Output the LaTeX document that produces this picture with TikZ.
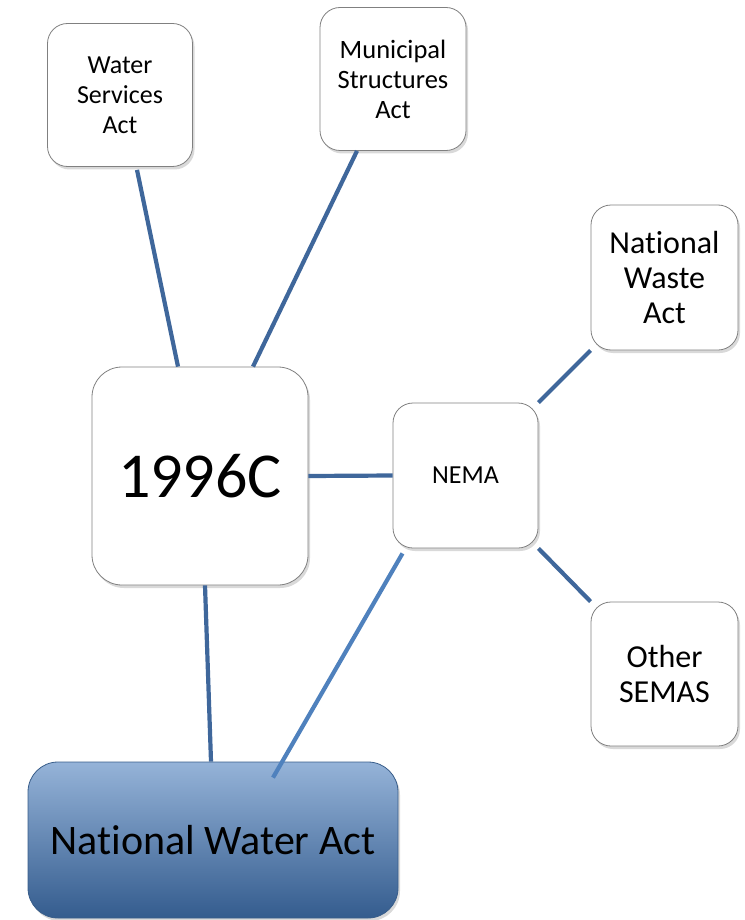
\documentclass[tikz,border=0pt]{standalone}
\usepackage{fontspec}
\setmainfont[RawFeature={-liga;-clig;-calt;-dlig}]{Carlito}
\definecolor{linkblue}{HTML}{3F679B}
\definecolor{linklight}{HTML}{4F81BD}
\definecolor{boxgray}{HTML}{808080}
\definecolor{nwatop}{HTML}{95B3D8}
\definecolor{nwamid}{HTML}{5583BE}
\definecolor{nwabottom}{HTML}{345C8E}
\definecolor{nwaline}{HTML}{385D8A}
\usepackage{tikz}
\usetikzlibrary{shadows}

\begin{document}
\begin{tikzpicture}[x=1pt, y=-1pt,
    actbox/.style={draw=boxgray, line width=0.8pt, fill=white, rounded corners=20pt,
      align=center, inner sep=0pt,
      drop shadow={shadow xshift=2pt, shadow yshift=-3pt, opacity=0.3}},
    link/.style={draw=linkblue, line width=4.2pt}]
    \useasboundingbox (0,0) rectangle (744,920);
    % Acts on top
    \node[actbox, minimum width=145pt, minimum height=143pt,
      font=\fontsize{26}{30}\selectfont] (ws) at (120,95) {Water\\Services\\Act};
    \node[actbox, minimum width=146pt, minimum height=143pt,
      font=\fontsize{26.5}{30}\selectfont] (msa) at (393,79) {Municipal\\Structures\\Act};
    % Acts on the right
    \node[actbox, minimum width=147pt, minimum height=145pt,
      font=\fontsize{32}{35}\selectfont] (nwaste) at (664.5,277.5) {National\\Waste\\Act};
    \node[actbox, minimum width=147pt, minimum height=144pt,
      font=\fontsize{32}{35}\selectfont] (semas) at (664.5,674) {Other\\SEMAS};
    % Constitution and NEMA
    \node[actbox, rounded corners=30pt, minimum width=216pt, minimum height=218pt,
      font=\fontsize{64}{70}\selectfont] (c96) at (200,476) {1996C};
    \node[actbox, minimum width=145pt, minimum height=145pt,
      font=\fontsize{26}{30}\selectfont] (nema) at (465.5,475.5) {NEMA};
    % National Water Act
    \node[draw=nwaline, line width=0.8pt, rounded corners=30pt,
      top color=nwatop, middle color=nwamid, bottom color=nwabottom,
      minimum width=370pt, minimum height=156pt, inner sep=0pt,
      font=\fontsize{42}{45}\selectfont,
      drop shadow={shadow xshift=2pt, shadow yshift=-3pt, opacity=0.3}] (nwa) at (213,840) {National Water Act};
    % Links
    \draw[link] ([xshift=-22pt]c96.north) -- ([xshift=17pt,yshift=-3pt]ws.south);
    \draw[link] ([xshift=53pt]c96.north) -- ([xshift=-36pt]msa.south);
    \draw[link] (c96.east) -- (nema.west);
    \draw[link] ([xshift=5pt]c96.south) -- ([xshift=-2pt]nwa.north);
    \draw[link] (nema.north east) -- (nwaste.south west);
    \draw[link] (nema.south east) -- (semas.north west);
    \draw[link, draw=linklight] ([xshift=-63pt,yshift=-5pt]nema.south)
      -- ([xshift=60pt,yshift=-16pt]nwa.north);
\end{tikzpicture}
\end{document}
